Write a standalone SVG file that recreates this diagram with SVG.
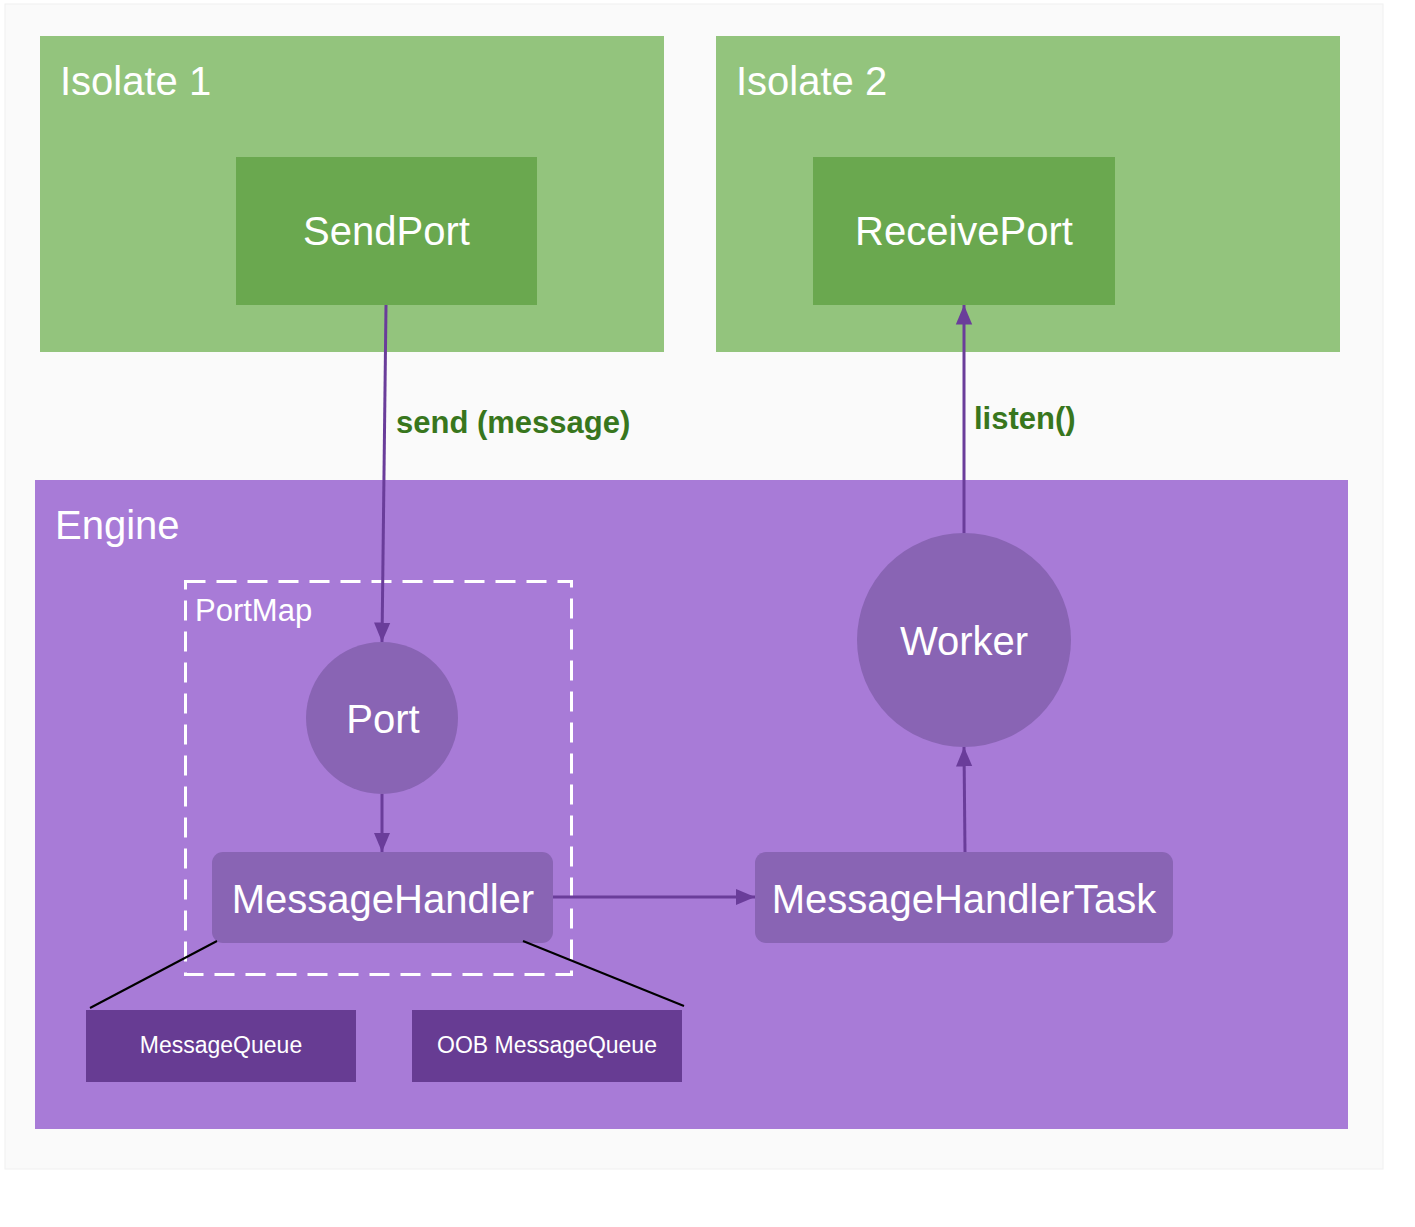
<svg xmlns="http://www.w3.org/2000/svg" width="1415" height="1227" viewBox="0 0 1415 1227">
<defs>
<marker id="ah" viewBox="0 0 10 10" refX="10" refY="5" markerWidth="6.5" markerHeight="6.5" orient="auto" markerUnits="strokeWidth">
<path d="M0,0.8 L10,5 L0,9.2 z" fill="#6a3d9a"/>
</marker>
<style>
text{font-family:"Liberation Sans",Arial,sans-serif;fill:#ffffff}
.t40{font-size:40px}
.mid{text-anchor:middle}
.iso{fill:#93c47d}
.port{fill:#6aa84f}
.pn{fill:#8964b4}
.q{fill:#673c93}
.conn{stroke:#6a3d9a;stroke-width:3;fill:none;marker-end:url(#ah)}
.lbl{font-size:31px;font-weight:bold;fill:#38761d}
</style>
</defs>
<rect x="5" y="4" width="1378" height="1165" fill="#fafafa" stroke="#f0f0f0" stroke-width="1"/>
<g id="isolate1">
<rect class="iso" x="40" y="36" width="624" height="316"/>
<text class="t40" x="60" y="95">Isolate 1</text>
</g>
<g id="isolate2">
<rect class="iso" x="716" y="36" width="624" height="316"/>
<text class="t40" x="736" y="95">Isolate 2</text>
</g>
<g id="sendport">
<rect class="port" x="236" y="157" width="301" height="148"/>
<text class="t40 mid" x="386.5" y="245">SendPort</text>
</g>
<g id="receiveport">
<rect class="port" x="813" y="157" width="302" height="148"/>
<text class="t40 mid" x="964" y="245">ReceivePort</text>
</g>
<g id="engine">
<rect x="35" y="480" width="1313" height="649" fill="#a87bd7"/>
<text class="t40" x="55" y="539">Engine</text>
</g>
<g id="portmap">
<rect x="185.5" y="581.5" width="386" height="393" fill="none" stroke="#ffffff" stroke-width="3" stroke-dasharray="20,11"/>
<text x="195" y="621" style="font-size:31px">PortMap</text>
</g>
<g id="port">
<circle class="pn" cx="382" cy="718" r="76"/>
<text class="t40 mid" x="383" y="733">Port</text>
</g>
<g id="worker">
<circle class="pn" cx="964" cy="640" r="107"/>
<text class="t40 mid" x="964" y="655">Worker</text>
</g>
<g id="messagehandler">
<rect class="pn" x="212" y="852" width="341" height="91" rx="11"/>
<text class="t40 mid" x="383" y="913">MessageHandler</text>
</g>
<g id="messagehandlertask">
<rect class="pn" x="755" y="852" width="418" height="91" rx="11"/>
<text class="t40 mid" x="964" y="913">MessageHandlerTask</text>
</g>
<g id="messagequeue">
<rect class="q" x="86" y="1010" width="270" height="72"/>
<text class="mid" x="221" y="1053" style="font-size:23px">MessageQueue</text>
</g>
<g id="oobmessagequeue">
<rect class="q" x="412" y="1010" width="270" height="72"/>
<text class="mid" x="547" y="1053" style="font-size:23px">OOB MessageQueue</text>
</g>
<g id="connectors">
<line class="conn" x1="386" y1="305" x2="382" y2="642"/>
<line class="conn" x1="964" y1="533" x2="964" y2="305"/>
<line class="conn" x1="382" y1="794" x2="382" y2="852"/>
<line class="conn" x1="553" y1="897" x2="755" y2="897"/>
<line class="conn" x1="965" y1="852" x2="964" y2="747"/>
<line x1="217" y1="941" x2="90" y2="1008" stroke="#000000" stroke-width="2"/>
<line x1="523" y1="941" x2="684" y2="1006" stroke="#000000" stroke-width="2"/>
<text class="lbl" x="396" y="433">send (message)</text>
<text class="lbl" x="974" y="429">listen()</text>
</g>
</svg>
